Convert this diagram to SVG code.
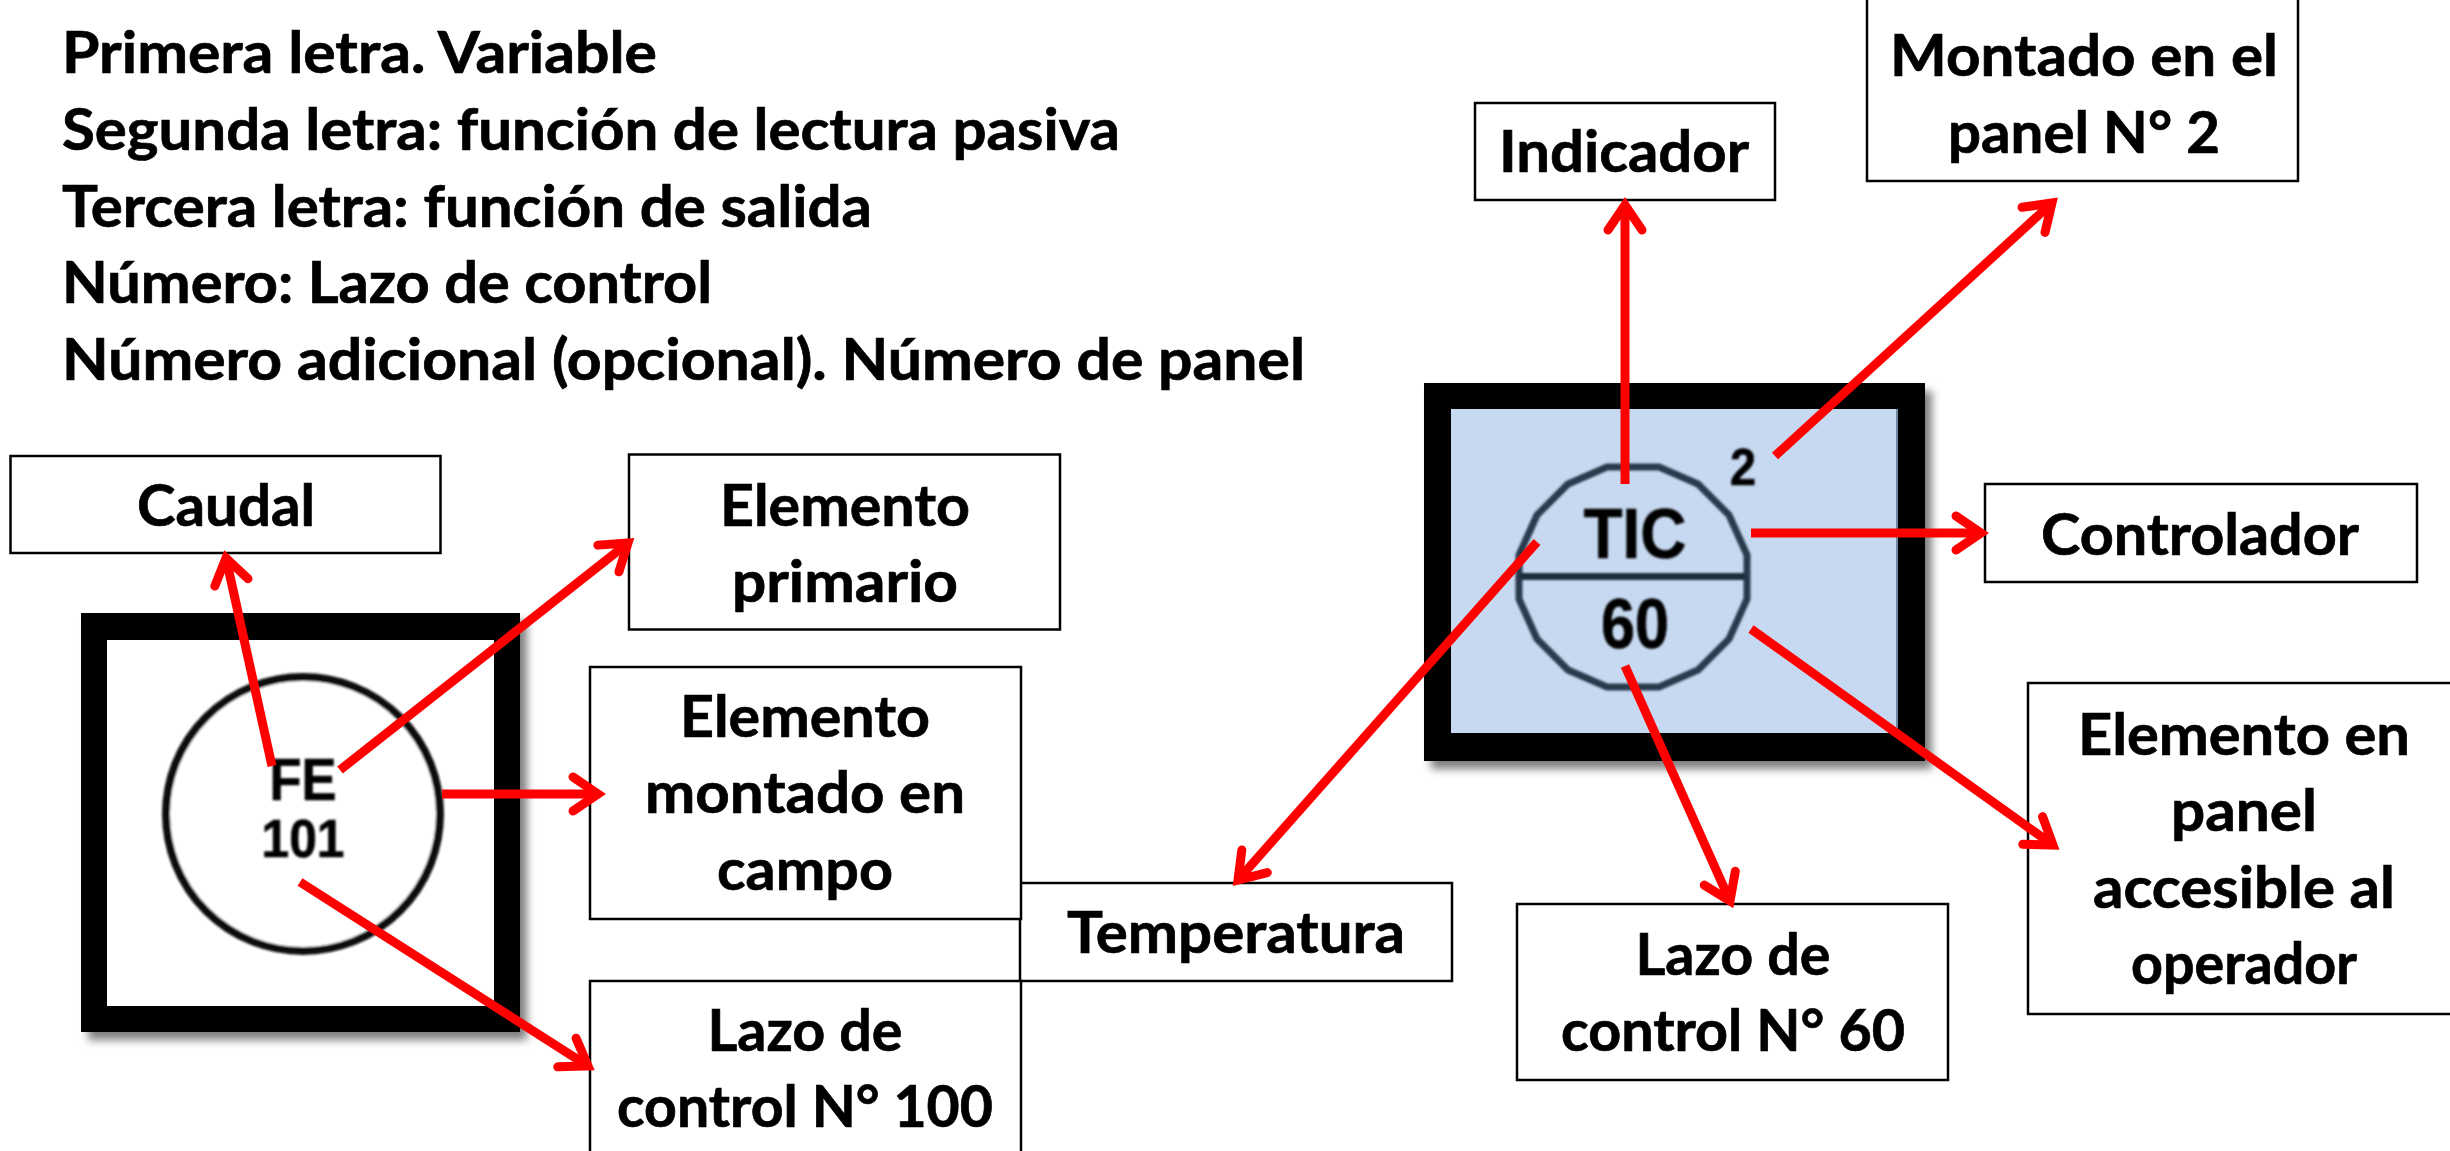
<svg xmlns="http://www.w3.org/2000/svg" width="2450" height="1151" viewBox="0 0 2450 1151">
<style>
text{font-family:"Lato","Carlito","Liberation Sans",sans-serif;font-weight:700;fill:#000;stroke:#000;stroke-width:.7}
.h{font-size:57px}
.b{font-size:58px;text-anchor:middle}
.box{fill:#fff;stroke:#000;stroke-width:2.500}
.a{fill:none;stroke:#f00;stroke-width:9;marker-end:url(#m)}
.g{font-family:"Liberation Sans",sans-serif;text-anchor:middle;filter:url(#s)}
</style>
<defs>
<marker id="m" markerUnits="userSpaceOnUse" markerWidth="50" markerHeight="50" refX="36" refY="25" orient="auto"><path d="M11 8L36 25L11 42" fill="none" stroke="#f00" stroke-width="9" stroke-linecap="round"/></marker>
<filter id="s" x="-20%" y="-20%" width="140%" height="140%"><feGaussianBlur stdDeviation="0.9"/></filter>
<filter id="drop" x="-10%" y="-10%" width="125%" height="125%"><feDropShadow dx="7" dy="8" stdDeviation="4" flood-color="#000" flood-opacity=".5"/></filter>
</defs>
<g id="heading">
<text class="h" x="62" y="73" textLength="595" lengthAdjust="spacingAndGlyphs">Primera letra. Variable</text>
<text class="h" x="62" y="150" textLength="1058" lengthAdjust="spacingAndGlyphs">Segunda letra: función de lectura pasiva</text>
<text class="h" x="62" y="227" textLength="810" lengthAdjust="spacingAndGlyphs">Tercera letra: función de salida</text>
<text class="h" x="62" y="303" textLength="650" lengthAdjust="spacingAndGlyphs">Número: Lazo de control</text>
<text class="h" x="62" y="380" textLength="1243" lengthAdjust="spacingAndGlyphs">Número adicional (opcional). Número de panel</text>
</g>
<g id="instrument-fe">
<path fill-rule="evenodd" d="M81 613H520V1032H81ZM107 640V1006H494V640Z" filter="url(#drop)"/>
<rect x="107" y="640" width="387" height="366" fill="#fff"/>
<circle cx="303" cy="814" r="137" fill="#fff" stroke="#111" stroke-width="8" filter="url(#s)"/>
<text class="g" x="303" y="800" font-size="60" textLength="67" lengthAdjust="spacingAndGlyphs">FE</text>
<text class="g" x="303" y="857" font-size="54" textLength="83" lengthAdjust="spacingAndGlyphs">101</text>
</g>
<g id="instrument-tic">
<path fill-rule="evenodd" d="M1424 383H1925V761H1424ZM1451 409V733H1898V409Z" filter="url(#drop)"/>
<rect x="1451" y="409" width="447" height="324" fill="#c6d9f0"/>
<rect x="1896" y="409" width="2" height="324" fill="#6f88a8"/>
<polygon points="1747,555 1729,515 1698,484 1659,467 1607,467 1568,484 1537,515 1519,555 1519,599 1537,639 1568,670 1607,687 1659,687 1698,670 1729,639 1747,599" fill="none" stroke="#2a3a4e" stroke-width="7" filter="url(#s)"/>
<rect x="1520" y="573" width="226" height="7" fill="#1f2d3d" filter="url(#s)"/>
<text class="g" x="1635" y="558" font-size="71" textLength="103" lengthAdjust="spacingAndGlyphs">TIC</text>
<text class="g" x="1635" y="648" font-size="70" textLength="68" lengthAdjust="spacingAndGlyphs">60</text>
<text class="g" x="1743" y="485" font-size="52" textLength="26" lengthAdjust="spacingAndGlyphs">2</text>
</g>
<g id="node-caudal"><rect class="box" x="10.500" y="456" width="430" height="97"/><text class="b" x="226" y="526" textLength="178" lengthAdjust="spacingAndGlyphs">Caudal</text></g>
<g id="node-primario"><rect class="box" x="629" y="454.500" width="431" height="175"/><text class="b" x="845" y="526" textLength="250" lengthAdjust="spacingAndGlyphs">Elemento</text><text class="b" x="845" y="602" textLength="226" lengthAdjust="spacingAndGlyphs">primario</text></g>
<g id="node-temperatura"><rect class="box" x="1020" y="883" width="432" height="98"/><text class="b" x="1236" y="953" textLength="338" lengthAdjust="spacingAndGlyphs">Temperatura</text></g>
<g id="node-montado"><rect class="box" x="590" y="667" width="431" height="252"/><text class="b" x="805" y="737" textLength="250" lengthAdjust="spacingAndGlyphs">Elemento</text><text class="b" x="805" y="813" textLength="320" lengthAdjust="spacingAndGlyphs">montado en</text><text class="b" x="805" y="890" textLength="176" lengthAdjust="spacingAndGlyphs">campo</text></g>
<g id="node-lazo100"><rect class="box" x="590" y="981" width="431" height="180"/><text class="b" x="805" y="1051" textLength="195" lengthAdjust="spacingAndGlyphs">Lazo de</text><text class="b" x="805" y="1127" textLength="376" lengthAdjust="spacingAndGlyphs">control N° 100</text></g>
<g id="node-indicador"><rect class="box" x="1475" y="103" width="300" height="97"/><text class="b" x="1624" y="172" textLength="250" lengthAdjust="spacingAndGlyphs">Indicador</text></g>
<g id="node-panel2"><rect class="box" x="1867" y="-2" width="431" height="183"/><text class="b" x="2084" y="76" textLength="388" lengthAdjust="spacingAndGlyphs">Montado en el</text><text class="b" x="2084" y="153" textLength="272" lengthAdjust="spacingAndGlyphs">panel N° 2</text></g>
<g id="node-controlador"><rect class="box" x="1985" y="484" width="432" height="98"/><text class="b" x="2200" y="555" textLength="318" lengthAdjust="spacingAndGlyphs">Controlador</text></g>
<g id="node-accesible"><rect class="box" x="2028" y="683" width="432" height="331"/><text class="b" x="2244" y="755" textLength="332" lengthAdjust="spacingAndGlyphs">Elemento en</text><text class="b" x="2244" y="831" textLength="146" lengthAdjust="spacingAndGlyphs">panel</text><text class="b" x="2244" y="908" textLength="302" lengthAdjust="spacingAndGlyphs">accesible al</text><text class="b" x="2244" y="984" textLength="226" lengthAdjust="spacingAndGlyphs">operador</text></g>
<g id="node-lazo60"><rect class="box" x="1517" y="904" width="431" height="176"/><text class="b" x="1733" y="975" textLength="195" lengthAdjust="spacingAndGlyphs">Lazo de</text><text class="b" x="1733" y="1051" textLength="344" lengthAdjust="spacingAndGlyphs">control N° 60</text></g>
<g id="connectors">
<path class="a" d="M272 766L226 558"/>
<path class="a" d="M340 770L628 543"/>
<path class="a" d="M442 794H598"/>
<path class="a" d="M300 882L588 1066"/>
<path class="a" d="M1625 484V205"/>
<path class="a" d="M1775 456L2052 203"/>
<path class="a" d="M1751 533H1981"/>
<path class="a" d="M1537 542L1238 880"/>
<path class="a" d="M1625 666L1730 901"/>
<path class="a" d="M1751 629L2053 845"/>
</g>
</svg>
